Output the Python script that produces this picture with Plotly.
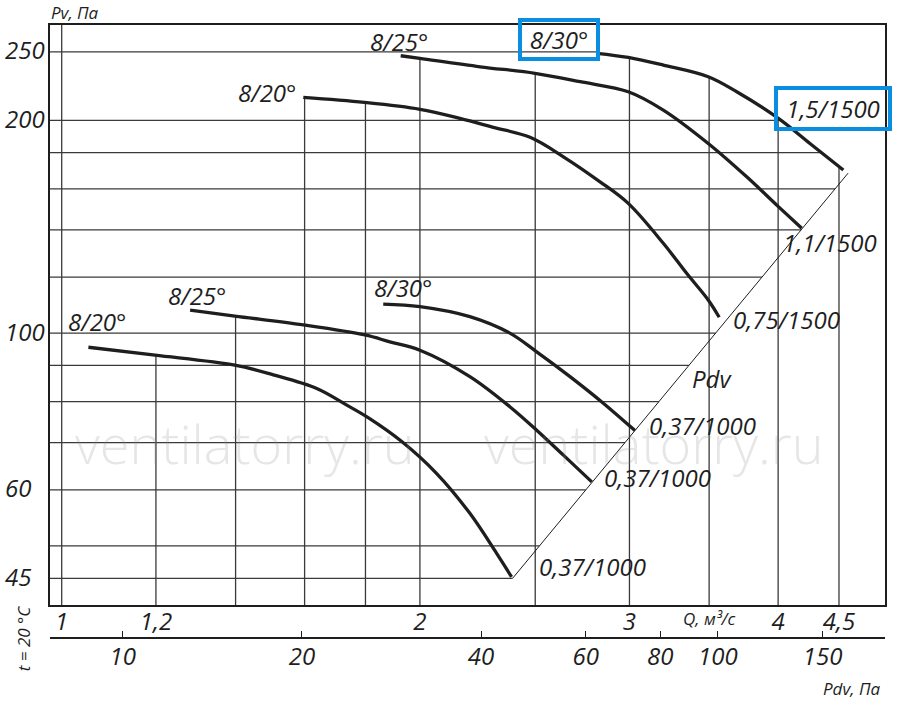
import numpy as np
import plotly.graph_objects as go

FONT = "Open Sans"
INK = "#1e1e1e"
GRID = "#3a3a3a"
BLUE = "#0a8ee0"

# ---------------- data: fan curves, Q (m³/s) vs Pv (Pa) ----------------
# 1500 rpm group
q_20_1500 = [1.596, 1.796, 2.000, 2.161, 2.305, 2.475, 2.640, 2.834, 2.993, 3.203, 3.351, 3.494, 3.569]
p_20_1500 = [215.5, 212.0, 207.3, 201.3, 195.5, 189.2, 177.6, 163.7, 152.6, 134.0, 121.5, 111.4, 105.3]
q_25_1500 = [1.927, 2.000, 2.247, 2.499, 2.727, 2.993, 3.203, 3.494, 3.764, 4.002, 4.187]
p_25_1500 = [246.8, 244.7, 238.1, 233.1, 226.8, 219.5, 206.8, 185.5, 166.4, 151.0, 140.7]
q_30_1500 = [2.816, 2.993, 3.203, 3.494, 3.692, 4.002, 4.254, 4.538]
p_30_1500 = [248.8, 245.5, 239.4, 230.5, 219.5, 201.3, 185.5, 170.1]
# 1000 rpm group
q_20_1000 = [1.053, 1.198, 1.398, 1.506, 1.638, 1.736, 1.808, 1.932, 2.066, 2.203, 2.320, 2.388]
p_20_1000 = [95.5, 93.1, 90.1, 87.3, 83.5, 79.1, 76.0, 70.2, 63.3, 55.6, 48.8, 45.2]
q_25_1000 = [1.282, 1.398, 1.596, 1.798, 1.887, 2.000, 2.203, 2.380, 2.507, 2.640, 2.789]
p_25_1000 = [107.8, 105.7, 102.7, 99.4, 97.2, 94.6, 86.8, 78.7, 72.9, 67.2, 61.6]
q_30_1000 = [1.863, 2.000, 2.203, 2.380, 2.507, 2.674, 2.852, 3.032]
p_30_1000 = [109.9, 109.0, 105.5, 100.0, 94.1, 86.8, 79.6, 72.8]

# Pdv line (dynamic pressure line through the curve ends)
pdv_line_q = [2.393, 4.58]
pdv_line_p = [45.0, 168.4]

# grid and ticks
q_grid = [1, 1.2, 1.4, 1.6, 1.8, 2, 2.5, 3, 3.5, 4, 4.5]
p_grid = [45, 50, 60, 70, 80, 90, 100, 120, 140, 160, 180, 200, 250]
q_tick_vals = [1, 1.2, 2, 3, 4, 4.5]
q_tick_text = ["1", "1,2", "2", "3", "4", "4,5"]
p_tick_vals = [45, 60, 100, 200, 250]
pdv_tick_vals = [10, 20, 40, 60, 80, 100, 150]

q_range = [0.9776, 4.919]
p_range = [41.25, 272.8]
pdv_range = [7.545, 190.98]

# curve labels: text, Q, P, boxed
curve_labels = [
    ("8/20°", 1.489, 218.9, False),
    ("8/25°", 1.920, 258.9, False),
    ("8/30°", 2.618, 260.1, True),
    ("1,5/1500", 4.444, 207.6, True),
    ("1,1/1500", 4.423, 134.5, False),
    ("0,75/1500", 4.062, 104.4, False),
    ("Pdv", 3.519, 86.4, False),
    ("0,37/1000", 3.458, 74.1, False),
    ("0,37/1000", 3.170, 62.4, False),
    ("0,37/1000", 2.791, 46.7, False),
    ("8/20°", 1.071, 104.0, False),
    ("8/25°", 1.299, 113.2, False),
    ("8/30°", 1.934, 116.2, False),
]

curves = [
    (q_20_1500, p_20_1500),
    (q_25_1500, p_25_1500),
    (q_30_1500, p_30_1500),
    (q_20_1000, p_20_1000),
    (q_25_1000, p_25_1000),
    (q_30_1000, p_30_1000),
]


def ll_interp(x, xs, ys):
    return float(10 ** np.interp(np.log10(x), np.log10(xs), np.log10(ys)))


# grid lines clipped to the area under the characteristic envelope
vx, vy = [], []
for q in q_grid:
    tops = [ll_interp(q, cq, cp) for cq, cp in curves if cq[0] <= q <= cq[-1]]
    top = max(tops) if tops else p_range[1]
    vx += [q, q, None]
    vy += [p_range[0], top, None]

outer_q, outer_p = curves[2]
hx, hy = [], []
for p in p_grid:
    if p >= outer_p[0]:
        right = outer_q[0]
    elif p >= outer_p[-1]:
        right = ll_interp(p, outer_p[::-1], outer_q[::-1])
    else:
        right = ll_interp(p, pdv_line_p, pdv_line_q)
    hx += [q_range[0], right, None]
    hy += [p, p, None]

fig = go.Figure()
fig.add_trace(go.Scatter(x=vx, y=vy, mode="lines", line=dict(color=GRID, width=1.3),
                         hoverinfo="skip", showlegend=False))
fig.add_trace(go.Scatter(x=hx, y=hy, mode="lines", line=dict(color=GRID, width=1.3),
                         hoverinfo="skip", showlegend=False))
fig.add_trace(go.Scatter(x=pdv_line_q, y=pdv_line_p, mode="lines",
                         line=dict(color=INK, width=1), hoverinfo="skip", showlegend=False))
for cq, cp in curves:
    fig.add_trace(go.Scatter(x=cq, y=cp, mode="lines",
                             line=dict(color=INK, width=3.3, shape="spline", smoothing=1.0),
                             showlegend=False))
# invisible trace so that the Pdv axis is drawn
fig.add_trace(go.Scatter(x=pdv_tick_vals, y=[p_range[0]] * len(pdv_tick_vals), xaxis="x2", yaxis="y",
                         mode="markers", marker=dict(opacity=0), hoverinfo="skip", showlegend=False))

BIG = 24
tickfont = dict(family=FONT, size=BIG, color=INK, style="italic")
fig.update_layout(
    width=900, height=717,
    margin=dict(l=50, r=15, t=25, b=79, autoexpand=False),
    paper_bgcolor="white", plot_bgcolor="white",
    showlegend=False,
    font=dict(family=FONT, color=INK, size=BIG, style="italic"),
    xaxis=dict(type="log", range=list(np.log10(q_range)), tickvals=q_tick_vals, ticktext=q_tick_text,
               ticks="", showgrid=False, zeroline=False, showline=True, mirror=True,
               linecolor=INK, linewidth=2, tickfont=tickfont, anchor="y",
               ticklabelstandoff=-6, automargin=False),
    yaxis=dict(type="log", range=list(np.log10(p_range)), domain=[33 / 613, 1],
               showticklabels=False, ticks="", showgrid=False, zeroline=False,
               showline=True, mirror=True, linecolor=INK, linewidth=2, automargin=False),
    xaxis2=dict(type="log", range=list(np.log10(pdv_range)), overlaying="x", anchor="free",
                position=0, side="bottom", tickvals=pdv_tick_vals,
                ticktext=[str(v) for v in pdv_tick_vals], ticks="inside", ticklen=6,
                tickwidth=1.2, tickcolor=INK, showline=True, linewidth=2, linecolor=INK,
                showgrid=False, zeroline=False, tickfont=tickfont, automargin=False,
                ticklabelstandoff=-3),
)

ann = []
for v in p_tick_vals:
    ann.append(dict(x=-0.0563, xref="paper", xanchor="left", y=np.log10(v), yref="y",
                    yanchor="middle", text=str(v), showarrow=False, yshift=2,
                    font=dict(family=FONT, size=BIG, color=INK, style="italic")))
for text, q, p, boxed in curve_labels:
    a = dict(x=np.log10(q), y=np.log10(p), xref="x", yref="y", text=text, showarrow=False,
             xanchor="center", yanchor="middle",
             font=dict(family=FONT, size=BIG, color=INK, style="italic"))
    if boxed:
        a.update(bordercolor=BLUE, borderwidth=4, borderpad=0,
                 width=74 if "°" in text else 110, height=35 if "°" in text else 37)
    ann.append(a)

small = dict(family=FONT, size=17, color=INK, style="italic")
ann += [
    dict(x=0.0299, y=1.0196, xref="paper", yref="paper", text="Pv, Па", showarrow=False,
         xanchor="center", yanchor="middle", font=small),
    dict(x=-0.032, y=0.0, xref="paper", yref="paper", text="t = 20 °C", textangle=-90,
         xanchor="center", yanchor="middle", showarrow=False, font=small),
    dict(x=np.log10(3.5), y=0.031, xref="x", yref="paper", text="Q, м³/с", showarrow=False,
         xanchor="center", yanchor="middle", font=small),
    dict(x=0.9601, y=-0.0816, xref="paper", yref="paper", text="Pdv, Па", showarrow=False,
         xanchor="center", yanchor="middle", font=small),
]
for wx in (0.2335, 0.7234):
    ann.append(dict(x=wx, y=0.3181, xref="paper", yref="paper", text="ventilatorry.ru",
                    showarrow=False, xanchor="center", yanchor="middle",
                    font=dict(family=FONT, size=54, color="rgba(140,140,140,0.22)", weight=300,
                              style="normal")))
fig.update_layout(annotations=ann)

fig.write_html("out.html", config={"displayModeBar": False},
               post_script="document.body.style.margin='0px';")
